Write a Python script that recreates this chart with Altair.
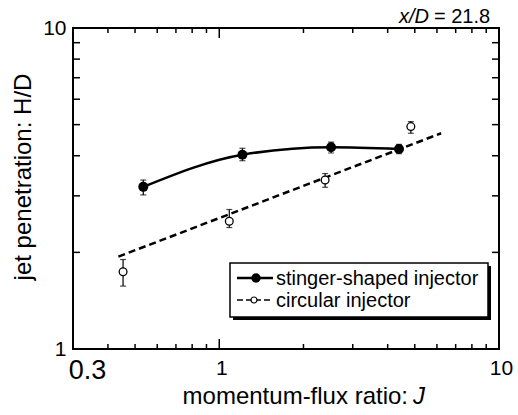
import altair as alt
import pandas as pd

# ---- data ----
stinger_J = [0.535, 1.21, 2.51, 4.39]
stinger_HD = [3.20, 4.03, 4.25, 4.20]
stinger_lo = [3.02, 3.86, 4.08, 4.06]
stinger_hi = [3.36, 4.22, 4.41, 4.34]

circ_J = [0.453, 1.086, 2.39, 4.84]
circ_HD = [1.74, 2.50, 3.36, 4.93]
circ_lo = [1.57, 2.39, 3.19, 4.70]
circ_hi = [1.90, 2.72, 3.52, 5.11]

fit_J = [0.436, 6.21]
fit_HD = [1.94, 4.70]

x_major = [0.3, 1, 10]
x_minor = [0.4, 0.5, 0.6, 0.7, 0.8, 0.9, 2, 3, 4, 5, 6, 7, 8, 9]
y_major = [1, 10]
y_minor = [2, 3, 4, 5, 6, 7, 8, 9]

W, H = 426, 321
FONT = "Liberation Sans"

st = pd.DataFrame({"J": stinger_J, "HD": stinger_HD, "lo": stinger_lo, "hi": stinger_hi})
ci = pd.DataFrame({"J": circ_J, "HD": circ_HD, "lo": circ_lo, "hi": circ_hi})
fit = pd.DataFrame({"J": fit_J, "HD": fit_HD})

xscale = alt.Scale(type="log", domain=[0.3, 10], nice=False)
yscale = alt.Scale(type="log", domain=[1, 10], nice=False)

xaxis = alt.Axis(values=x_major, format="~g", ticks=False, tickSize=0, domain=False, grid=False,
                 labelFont=FONT, labelColor="black", labelFlush=False,
                 labelFontSize={"condition": {"test": "datum.value < 0.5", "value": 27}, "value": 21},
                 labelOffset={"condition": {"test": "datum.value < 0.5", "value": 14}, "value": 2},
                 labelPadding=8, title=None)
yaxis = alt.Axis(values=y_major, format="~g", ticks=False, tickSize=0, domain=False, grid=False,
                 labelFont=FONT, labelColor="black", labelFontSize=21, labelPadding=7,
                 labelFlush=False, title=None)

def X(f="J"):
    return alt.X(f"{f}:Q", scale=xscale, axis=xaxis)

def Y(f="HD"):
    return alt.Y(f"{f}:Q", scale=yscale, axis=yaxis)

# tick marks (inward)
xmin_df = pd.DataFrame({"J": x_minor})
xmaj_df = pd.DataFrame({"J": [1]})
ymin_df = pd.DataFrame({"HD": y_minor})
tick_style = dict(color="black", strokeWidth=1.5)
ticks = [
    alt.Chart(xmin_df).mark_rule(**tick_style).encode(x=X(), y=alt.value(H), y2=alt.value(H - 5)),
    alt.Chart(xmin_df).mark_rule(**tick_style).encode(x=X(), y=alt.value(0), y2=alt.value(5)),
    alt.Chart(xmaj_df).mark_rule(**tick_style).encode(x=X(), y=alt.value(H), y2=alt.value(H - 10)),
    alt.Chart(xmaj_df).mark_rule(**tick_style).encode(x=X(), y=alt.value(0), y2=alt.value(10)),
    alt.Chart(ymin_df).mark_rule(**tick_style).encode(y=Y(), x=alt.value(0), x2=alt.value(7)),
    alt.Chart(ymin_df).mark_rule(**tick_style).encode(y=Y(), x=alt.value(W), x2=alt.value(W - 7)),
]

def errbars(df):
    bar = alt.Chart(df).mark_rule(color="black", strokeWidth=1.2).encode(
        x=X(), y=Y("lo"), y2="hi:Q")
    cap_hi = alt.Chart(df).mark_tick(color="black", orient="horizontal", size=6, thickness=1.2).encode(
        x=X(), y=Y("hi"))
    cap_lo = alt.Chart(df).mark_tick(color="black", orient="horizontal", size=6, thickness=1.2).encode(
        x=X(), y=Y("lo"))
    return [bar, cap_hi, cap_lo]

fit_line = alt.Chart(fit).mark_line(color="black", strokeWidth=2.5, strokeDash=[7, 4]).encode(x=X(), y=Y())
st_line = alt.Chart(st).mark_line(color="black", strokeWidth=2.5, interpolate="monotone").encode(x=X(), y=Y())
st_pts = alt.Chart(st).mark_point(shape="circle", filled=True, color="black", size=100, opacity=1).encode(x=X(), y=Y())
ci_pts = alt.Chart(ci).mark_point(shape="circle", filled=True, fill="white", stroke="black",
                                  strokeWidth=1.3, size=60, opacity=1).encode(x=X(), y=Y())

# legend (manual)
one = pd.DataFrame({"k": [0]})
lx0, lx1, ly0, ly1 = 157, 415, 235, 289
legend = [
    alt.Chart(one).mark_rect(color="black").encode(
        x=alt.value(lx0 + 3), x2=alt.value(lx1 + 3), y=alt.value(ly0 + 3), y2=alt.value(ly1 + 3)),
    alt.Chart(one).mark_rect(fill="white", stroke="black", strokeWidth=1.5).encode(
        x=alt.value(lx0), x2=alt.value(lx1), y=alt.value(ly0), y2=alt.value(ly1)),
    alt.Chart(one).mark_rule(color="black", strokeWidth=2.5).encode(
        x=alt.value(164), x2=alt.value(200), y=alt.value(250)),
    alt.Chart(one).mark_point(shape="circle", filled=True, color="black", size=90, opacity=1).encode(
        x=alt.value(183), y=alt.value(250)),
    alt.Chart(one).mark_text(font=FONT, fontSize=20, align="left", baseline="middle", color="black").encode(
        x=alt.value(203), y=alt.value(251), text=alt.value("stinger-shaped injector")),
    alt.Chart(one).mark_rule(color="black", strokeWidth=1.5, strokeDash=[6, 3]).encode(
        x=alt.value(164), x2=alt.value(200), y=alt.value(272)),
    alt.Chart(one).mark_point(shape="circle", filled=True, fill="white", stroke="black", strokeWidth=1.2,
                              size=36, opacity=1).encode(x=alt.value(181), y=alt.value(272)),
    alt.Chart(one).mark_text(font=FONT, fontSize=20, align="left", baseline="middle", color="black").encode(
        x=alt.value(203), y=alt.value(273), text=alt.value("circular injector")),
]

# titles
titles = [
    alt.Chart(one).mark_text(font=FONT, fontSize=20, fontStyle="italic", align="right",
                             baseline="alphabetic", color="black").encode(
        x=alt.value(356), y=alt.value(-5), text=alt.value("x/D")),
    alt.Chart(one).mark_text(font=FONT, fontSize=20, align="left", baseline="alphabetic", color="black").encode(
        x=alt.value(361), y=alt.value(-5), text=alt.value("= 21.8")),
    alt.Chart(one).mark_text(font=FONT, fontSize=24, align="right", baseline="alphabetic", color="black").encode(
        x=alt.value(335), y=alt.value(376), text=alt.value("momentum-flux ratio:")),
    alt.Chart(one).mark_text(font=FONT, fontSize=24, fontStyle="italic", align="left",
                             baseline="alphabetic", color="black").encode(
        x=alt.value(340), y=alt.value(376), text=alt.value("J")),
    alt.Chart(one).mark_text(font=FONT, fontSize=24, angle=270, align="center", baseline="middle",
                             color="black").encode(
        x=alt.value(-49), y=alt.value(149), text=alt.value("jet penetration: H/D")),
]

layers = ticks + errbars(ci) + errbars(st) + [fit_line, st_line, ci_pts, st_pts] + legend + titles

chart = alt.layer(*layers).properties(
    width=W, height=H,
    background="white",
    autosize=alt.AutoSizeParams(type="none"),
    padding={"left": 73, "top": 28, "right": 19, "bottom": 66},
).configure_view(stroke="black", strokeWidth=2)

chart.save("out.html", embed_options={"renderer": "svg", "actions": False})
